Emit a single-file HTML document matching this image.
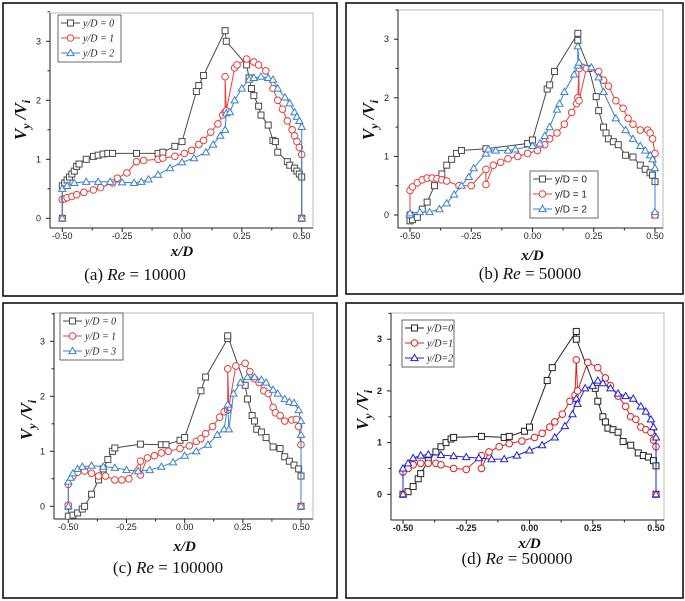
<!DOCTYPE html>
<html><head><meta charset="utf-8"><style>
body{margin:0;background:#fff;}
svg{display:block;font-family:"Liberation Sans",sans-serif;}
</style></head><body>
<svg id="chart" width="685" height="601" viewBox="0 0 685 601"></svg>
<script>
// ===== Data arrays =====
const xTicks=[-0.5,-0.25,0,0.25,0.5];
const xTickLabels=["-0.50","-0.25","0.00","0.25","0.50"];
const yTicks=[0,1,2,3];
const yTickLabels=["0","1","2","3"];
const panelTitles=["(a) ","(b) ","(c) ","(d) "];
const panelRe=["10000","50000","100000","500000"];
const legendA=["y/D = 0","y/D = 1","y/D = 2"];
const legendB=["y/D = 0","y/D = 1","y/D = 2"];
const legendC=["y/D = 0","y/D = 1","y/D = 3"];
const legendD=["y/D=0","y/D=1","y/D=2"];

const a0x=[-0.5,-0.5,-0.49,-0.48,-0.47,-0.46,-0.45,-0.44,-0.43,-0.40,-0.37,-0.35,-0.33,-0.31,-0.29,-0.19,-0.1,-0.08,-0.03,0,0.06,0.07,0.09,0.18,0.185,0.27,0.28,0.29,0.30,0.32,0.33,0.36,0.38,0.39,0.40,0.44,0.45,0.47,0.48,0.49,0.5,0.5];
const a0y=[0,0.55,0.6,0.65,0.7,0.75,0.8,0.88,0.92,1.0,1.05,1.07,1.09,1.1,1.1,1.1,1.1,1.12,1.22,1.3,2.15,2.25,2.42,3.18,3.0,2.6,2.38,2.2,2.08,1.9,1.75,1.58,1.32,1.3,1.12,0.96,0.9,0.85,0.8,0.75,0.7,0];
const a1x=[-0.5,-0.5,-0.49,-0.48,-0.46,-0.44,-0.41,-0.37,-0.34,-0.29,-0.27,-0.23,-0.19,-0.16,-0.1,-0.08,-0.03,0.01,0.04,0.07,0.09,0.12,0.15,0.17,0.18,0.18,0.185,0.22,0.23,0.27,0.3,0.32,0.35,0.38,0.40,0.42,0.44,0.46,0.47,0.48,0.49,0.5,0.5];
const a1y=[0,0.32,0.33,0.35,0.37,0.4,0.44,0.48,0.52,0.6,0.68,0.77,0.96,0.98,1.0,1.02,1.05,1.1,1.15,1.25,1.32,1.46,1.6,1.75,1.8,2.4,1.82,2.55,2.6,2.7,2.65,2.6,2.5,2.2,2.0,1.85,1.65,1.5,1.4,1.3,1.2,1.08,0];
const a2x=[-0.5,-0.5,-0.48,-0.45,-0.4,-0.35,-0.3,-0.25,-0.2,-0.17,-0.14,-0.1,-0.05,0,0.05,0.1,0.13,0.16,0.18,0.185,0.2,0.22,0.25,0.28,0.3,0.33,0.36,0.38,0.4,0.43,0.45,0.47,0.48,0.49,0.5,0.5];
const a2y=[0,0.5,0.55,0.6,0.62,0.62,0.62,0.61,0.6,0.62,0.66,0.74,0.85,0.95,1.02,1.12,1.25,1.4,1.5,1.78,1.8,2.0,2.2,2.35,2.38,2.4,2.38,2.35,2.2,2.05,1.95,1.8,1.72,1.65,1.55,0];

const b0x=[-0.5,-0.5,-0.49,-0.47,-0.45,-0.43,-0.40,-0.37,-0.35,-0.33,-0.31,-0.29,-0.19,-0.02,0,0.06,0.07,0.09,0.185,0.185,0.23,0.26,0.27,0.29,0.3,0.31,0.33,0.35,0.38,0.41,0.44,0.46,0.48,0.49,0.5,0.5];
const b0y=[0,-0.1,-0.08,-0.04,0.1,0.22,0.5,0.7,0.85,0.95,1.05,1.1,1.13,1.22,1.28,2.15,2.22,2.45,3.1,2.98,2.5,2.02,1.78,1.5,1.4,1.3,1.25,1.2,1.02,0.99,0.85,0.78,0.72,0.68,0.57,0];
const b1x=[-0.5,-0.5,-0.49,-0.47,-0.45,-0.43,-0.41,-0.39,-0.37,-0.35,-0.3,-0.25,-0.19,-0.19,-0.16,-0.13,-0.1,-0.06,-0.02,0.02,0.05,0.07,0.1,0.13,0.16,0.18,0.185,0.19,0.19,0.22,0.27,0.29,0.31,0.34,0.37,0.39,0.41,0.44,0.47,0.48,0.49,0.5,0.5];
const b1y=[0,0.42,0.48,0.55,0.6,0.63,0.63,0.62,0.6,0.58,0.5,0.5,0.78,0.52,0.85,0.9,0.96,1.0,1.05,1.1,1.2,1.3,1.4,1.55,1.75,1.9,2.0,2.5,1.95,2.5,2.45,2.3,2.2,1.95,1.82,1.65,1.55,1.45,1.45,1.4,1.3,1.05,0];
const b2x=[-0.5,-0.5,-0.46,-0.42,-0.38,-0.35,-0.32,-0.29,-0.26,-0.24,-0.19,-0.18,-0.15,-0.1,-0.07,0,0.03,0.05,0.07,0.1,0.11,0.13,0.17,0.185,0.185,0.19,0.24,0.27,0.29,0.34,0.38,0.41,0.44,0.46,0.48,0.49,0.5,0.5];
const b2y=[0,0.03,0.05,0.05,0.1,0.2,0.35,0.5,0.65,0.8,1.05,1.12,1.1,1.1,1.12,1.18,1.22,1.35,1.5,1.8,1.9,2.1,2.4,2.55,2.88,2.6,2.52,2.35,2.1,1.65,1.45,1.3,1.18,1.1,1.02,0.95,0.8,0.05];

const c0x=[-0.5,-0.5,-0.48,-0.46,-0.44,-0.43,-0.40,-0.37,-0.35,-0.33,-0.31,-0.3,-0.19,-0.1,-0.08,-0.02,0,0.07,0.09,0.185,0.185,0.26,0.27,0.29,0.3,0.31,0.33,0.35,0.38,0.41,0.43,0.45,0.47,0.49,0.5,0.5];
const c0y=[0,-0.18,-0.16,-0.12,-0.05,0,0.22,0.48,0.68,0.85,1.0,1.06,1.13,1.12,1.12,1.2,1.25,2.1,2.35,3.05,3.1,2.2,1.95,1.65,1.55,1.4,1.35,1.25,1.08,1.05,0.9,0.82,0.75,0.68,0.55,0];
const c1x=[-0.5,-0.5,-0.48,-0.46,-0.43,-0.4,-0.37,-0.34,-0.3,-0.27,-0.24,-0.19,-0.19,-0.16,-0.13,-0.1,-0.07,-0.02,0.02,0.05,0.07,0.09,0.12,0.15,0.17,0.185,0.185,0.19,0.22,0.26,0.28,0.3,0.32,0.34,0.36,0.38,0.39,0.41,0.43,0.46,0.48,0.49,0.5,0.5];
const c1y=[0.02,0.4,0.55,0.62,0.64,0.6,0.55,0.55,0.48,0.48,0.5,0.82,0.57,0.88,0.92,0.97,1.0,1.05,1.1,1.18,1.23,1.32,1.45,1.62,1.72,1.75,2.5,1.8,2.55,2.6,2.45,2.32,2.25,2.1,2.05,1.8,1.7,1.65,1.55,1.57,1.58,1.45,1.12,0];
const c2x=[-0.5,-0.5,-0.49,-0.48,-0.46,-0.44,-0.4,-0.35,-0.3,-0.25,-0.2,-0.15,-0.1,-0.05,0,0.05,0.1,0.14,0.17,0.185,0.19,0.21,0.24,0.27,0.3,0.33,0.35,0.38,0.4,0.43,0.45,0.47,0.49,0.5,0.5,0.5];
const c2y=[0,0.45,0.52,0.6,0.68,0.72,0.74,0.72,0.7,0.66,0.64,0.66,0.72,0.8,0.92,1.0,1.12,1.3,1.4,1.85,1.4,2.05,2.25,2.35,2.35,2.3,2.25,2.12,2.05,1.95,1.9,1.88,1.75,1.55,1.3,0];

const d0x=[-0.5,-0.48,-0.46,-0.44,-0.43,-0.4,-0.37,-0.35,-0.33,-0.31,-0.3,-0.19,-0.1,-0.08,-0.02,0,0.07,0.09,0.185,0.185,0.26,0.27,0.29,0.3,0.31,0.33,0.35,0.37,0.4,0.43,0.45,0.47,0.49,0.5,0.5];
const d0y=[0,0.05,0.15,0.3,0.4,0.65,0.82,0.92,1.0,1.07,1.1,1.12,1.1,1.12,1.22,1.3,2.2,2.45,3.15,3.0,2.05,1.8,1.5,1.4,1.28,1.25,1.2,1.02,0.95,0.8,0.75,0.72,0.65,0.55,0];
const d1x=[-0.5,-0.5,-0.48,-0.46,-0.43,-0.4,-0.37,-0.35,-0.3,-0.25,-0.19,-0.19,-0.16,-0.12,-0.08,-0.03,0.02,0.05,0.08,0.1,0.13,0.16,0.18,0.185,0.19,0.23,0.27,0.3,0.32,0.35,0.38,0.4,0.42,0.44,0.46,0.48,0.49,0.5,0.5];
const d1y=[0,0.43,0.5,0.57,0.6,0.6,0.6,0.57,0.5,0.48,0.75,0.5,0.82,0.92,0.98,1.03,1.1,1.18,1.3,1.4,1.55,1.8,1.92,2.6,2.0,2.55,2.45,2.25,2.1,1.9,1.7,1.5,1.45,1.3,1.25,1.2,1.05,0.92,0];
const d2x=[-0.5,-0.5,-0.48,-0.46,-0.43,-0.4,-0.35,-0.3,-0.25,-0.2,-0.15,-0.1,-0.05,0,0.05,0.1,0.14,0.17,0.185,0.19,0.22,0.25,0.27,0.29,0.32,0.35,0.38,0.41,0.44,0.46,0.48,0.49,0.5,0.5];
const d2y=[0,0.5,0.6,0.7,0.75,0.77,0.76,0.74,0.72,0.7,0.68,0.68,0.75,0.85,0.95,1.1,1.32,1.55,1.85,1.75,2.05,2.1,2.2,2.15,2.05,1.95,1.9,1.85,1.7,1.6,1.45,1.3,1.1,0];

// ===== Layout =====
const NS="http://www.w3.org/2000/svg";
const svg=document.getElementById('chart');
function el(tag,attrs,parent,text){const e=document.createElementNS(NS,tag);for(const k in attrs)e.setAttribute(k,attrs[k]);if(text!==undefined)e.textContent=text;(parent||svg).appendChild(e);return e;}

const panels=[
 {box:[3,3,334,293],frame:[50,13,313,228],xr:[62.3,301.7],yr:[218.3,59],leg:[58,15],legW:63,legLabels:legendA,
  series:[[a0x,a0y],[a1x,a1y],[a2x,a2y]],colors:["#4a4a4a","#e8413b","#3a80d8"],title:[135,280],xlab:256,ylabX:26,ylabY:120},
 {box:[346,3,337,291],frame:[398,10,663,228],xr:[410,655],yr:[215,58.6],leg:[530,171],legW:68,legLabels:legendB,sans:true,
  series:[[b0x,b0y],[b1x,b1y],[b2x,b2y]],colors:["#4a4a4a","#e8413b","#3a80d8"],title:[530,279],xlab:260,ylabX:374,ylabY:120},
 {box:[3,303,334,295],frame:[54,313,313,519],xr:[68.3,301],yr:[506.3,55],leg:[60,313],legW:63,legLabels:legendC,
  series:[[c0x,c0y],[c1x,c1y],[c2x,c2y]],colors:["#4a4a4a","#e8413b","#3a80d8"],title:[168,573],xlab:551,ylabX:32,ylabY:420},
 {box:[346,303,337,295],frame:[391,313,664,520],xr:[403,656],yr:[494.3,51.7],leg:[402,320],legW:52,legLabels:legendD,
  series:[[d0x,d0y],[d1x,d1y],[d2x,d2y]],colors:["#222","#e02020","#2020d8"],title:[517,564],xlab:548,ylabX:368,ylabY:410}
];
const seriesNames=["series-y0","series-y1","series-y2"];

function marker(g,k,cx,cy,color){
  let m;
  if(k===0)m=el('rect',{x:cx-3,y:cy-3,width:6,height:6,fill:'#fff',stroke:color,'stroke-width':1},g);
  else if(k===1)m=el('circle',{cx:cx,cy:cy,r:3.3,fill:'#fff',stroke:color,'stroke-width':1},g);
  else m=el('path',{d:`M${cx},${cy-3.6}L${cx+3.6},${cy+2.6}L${cx-3.6},${cy+2.6}Z`,fill:'#fff',stroke:color,'stroke-width':1},g);
  
  
}

panels.forEach((p,pi)=>{
  const letter="abcd"[pi];
  const g=el('g',{});
  
  
  const bx=el('rect',{x:p.box[0],y:p.box[1],width:p.box[2],height:p.box[3],fill:'#fff',stroke:'#111','stroke-width':1.6},g);
  
  
  const [fl,ft,fr,fb]=p.frame;
  const X=v=>p.xr[0]+(v+0.5)*(p.xr[1]-p.xr[0]);
  const Y=v=>p.yr[0]-v*p.yr[1];
  const fr_=el('rect',{x:fl,y:ft,width:fr-fl,height:fb-ft,fill:'none',stroke:'#bbb','stroke-width':1},g);
  
  
  const ax=el('g',{},g);
  
  
  el('line',{x1:fl,y1:ft,x2:fl,y2:fb,stroke:'#222','stroke-width':1},ax);
  el('line',{x1:fl,y1:fb,x2:fr,y2:fb,stroke:'#222','stroke-width':1},ax);
  const fs=pi===3?'bold 9px "Liberation Sans",sans-serif':'9px "Liberation Sans",sans-serif';
  xTicks.forEach((t,i)=>{
    el('line',{x1:X(t),y1:fb,x2:X(t),y2:fb+4,stroke:'#222'},ax);
    if(i<xTicks.length-1)el('line',{x1:X(t+0.125),y1:fb,x2:X(t+0.125),y2:fb+2.5,stroke:'#222'},ax);
    const tl=el('text',{x:X(t),y:fb+11,'text-anchor':'middle',style:'font:'+fs,fill:'#222'},ax,xTickLabels[i]);
    
    
  });
  yTicks.forEach((t,i)=>{
    el('line',{x1:fl,y1:Y(t),x2:fl-4,y2:Y(t),stroke:'#222'},ax);
    el('line',{x1:fl,y1:Y(t+0.5),x2:fl-2.5,y2:Y(t+0.5),stroke:'#222'},ax);
    const tl=el('text',{x:fl-9,y:Y(t)+3,'text-anchor':'end',style:'font:'+fs,fill:'#222'},ax,yTickLabels[i]);
    
    
  });
  const xl=el('text',{x:(p.xr[0]+p.xr[1])/2,y:p.xlab,'text-anchor':'middle',style:'font:italic bold 15px "Liberation Serif",serif',fill:'#111'},g,'x/D');
  
  
  const yl=el('text',{transform:`translate(${p.ylabX},${p.ylabY}) rotate(-90)`,'text-anchor':'middle',style:'font:italic bold 17px "Liberation Serif",serif',fill:'#111'},g);
  
  
  yl.innerHTML='V<tspan dy="4" font-size="12">y</tspan><tspan dy="-4"> /V</tspan><tspan dy="4" font-size="12">i</tspan>';
  const tt=el('text',{x:p.title[0],y:p.title[1],'text-anchor':'middle',style:'font:17px "Liberation Serif",serif',fill:'#111'},g);
  
  
  tt.innerHTML=panelTitles[pi]+'<tspan font-style="italic">Re</tspan> = '+panelRe[pi];
  p.series.forEach((s,k)=>{
    const sg=el('g',{},g);
    
    
    const pts=s[0].map((x,i)=>X(x).toFixed(1)+','+Y(s[1][i]).toFixed(1)).join(' ');
    const ln=el('polyline',{points:pts,fill:'none',stroke:p.colors[k],'stroke-width':1},sg);
    
    
    s[0].forEach((x,i)=>marker(sg,k,X(x),Y(s[1][i]),p.colors[k]));
  });
  const lg=el('g',{},g);
  
  
  const lh=15;
  el('rect',{x:p.leg[0],y:p.leg[1],width:p.legW,height:lh*3+2,fill:'#fff',stroke:'#444','stroke-width':0.8},lg);
  p.legLabels.forEach((lab,k)=>{
    const ly=p.leg[1]+8+k*lh;
    const le=el('g',{},lg);
    
    
    el('line',{x1:p.leg[0]+3,y1:ly,x2:p.leg[0]+22,y2:ly,stroke:p.colors[k],'stroke-width':1},le);
    marker(le,k,p.leg[0]+12.5,ly,p.colors[k]);
    const st=p.sans?'font:10px "Liberation Sans",sans-serif':'font:italic 10px "Liberation Serif",serif';
    el('text',{x:p.leg[0]+25,y:ly+3.5,style:st,fill:'#222'},le,lab);
  });
});
</script>
</body></html>
